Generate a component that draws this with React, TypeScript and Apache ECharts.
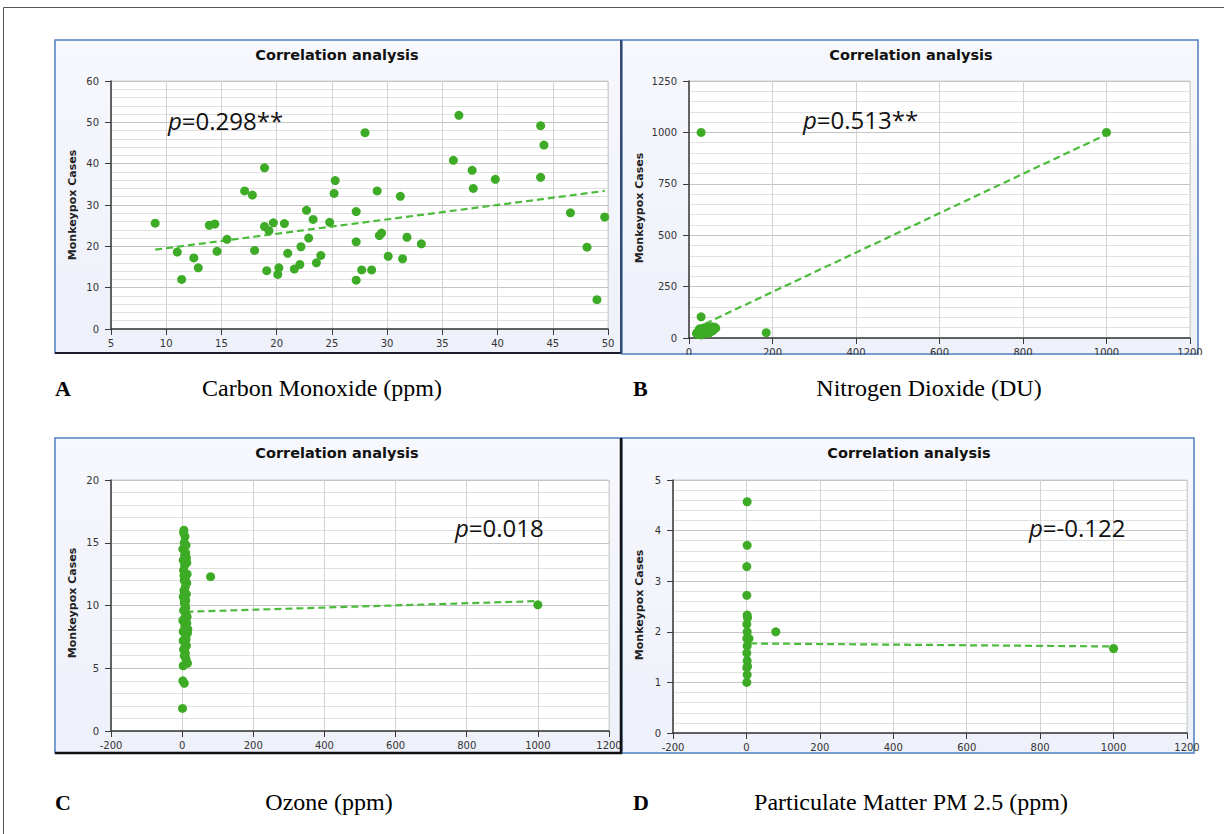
import React, { useEffect, useRef } from 'react';
import * as echarts from 'echarts';

const DOT = '#3dab25';
const TREND = '#4cbb3c';

// ---------- Panel A : Carbon Monoxide ----------
const coX = [9.0, 11.0, 11.4, 12.5, 12.9, 13.9, 14.4, 14.6, 15.5, 17.1, 17.8, 18.0, 18.9, 18.9, 19.1, 19.3, 19.7, 20.2, 20.1, 20.7,
  21.0, 21.6, 22.1, 22.2, 22.7, 22.9, 23.3, 23.6, 24.0, 24.8, 25.2, 25.3, 27.2, 27.2, 27.2, 27.7, 28.0, 28.6, 29.1, 29.3,
  29.5, 30.1, 31.2, 31.4, 31.8, 33.1, 36.0, 36.5, 37.7, 37.8, 39.8, 43.9, 44.2, 43.9, 46.6, 48.1, 49.0, 49.7];
const coCases = [25.6, 18.6, 12.0, 17.2, 14.8, 25.1, 25.4, 18.8, 21.7, 33.4, 32.4, 19.0, 39.0, 24.8, 14.1, 23.8, 25.7, 14.8, 13.2, 25.5,
  18.3, 14.5, 15.6, 19.9, 28.7, 22.0, 26.5, 16.0, 17.8, 25.8, 32.8, 35.9, 28.4, 21.1, 11.8, 14.3, 47.5, 14.3, 33.4, 22.6,
  23.2, 17.6, 32.1, 17.0, 22.2, 20.6, 40.8, 51.7, 38.4, 34.0, 36.2, 49.2, 44.5, 36.7, 28.1, 19.8, 7.1, 27.1];
const coTrendX = [9, 49.7];
const coTrendY = [19.2, 33.4];

// ---------- Panel B : Nitrogen Dioxide ----------
const no2X = [18, 20, 22, 24, 25, 27, 28, 30, 31, 32, 34, 35, 36, 38, 39, 40, 41, 42, 44, 45, 46, 47, 48, 50, 51, 52, 54, 55, 56, 58,
  60, 62, 64, 33, 26, 43, 37, 49, 57, 29, 29, 29, 1000, 185];
const no2Cases = [22, 28, 18, 35, 25, 30, 40, 22, 33, 45, 28, 38, 30, 42, 26, 35, 48, 32, 40, 28, 44, 36, 52, 40, 30, 46, 38, 55, 44, 50,
  42, 52, 48, 20, 45, 22, 50, 25, 35, 15, 103, 1000, 1000, 26];
const no2TrendX = [15, 1000];
const no2TrendY = [47, 990];

// ---------- Panel C : Ozone ----------
const o3X = [5, 8, 6, 2, 10, 12, 3, 7, 4, 14, 9, 6, 13, 5, 8, 3, 10, 6, 9, 4, 11, 7, 2, 13, 8, 5, 15, 10, 3, 8, 12, 4, 9, 6, 11, 15, 3,
  4, 11, 7, 13, 5, 9, 12, 6, 10, 14, 8, 3, 11, 16, 7, 9,
  2, 6, 1, 80, 1000];
const o3Cases = [16.0, 15.5, 15.0, 14.5, 14.2, 13.8, 13.6, 13.2, 12.8, 12.5, 12.2, 12.0, 11.8, 11.2, 11.0, 10.7, 10.4, 10.2, 10.0, 9.6,
  9.3, 9.0, 8.8, 8.6, 8.3, 8.0, 7.8, 7.5, 7.2, 7.0, 6.8, 6.5, 6.2, 6.0, 5.7, 5.4, 5.2,
  15.8, 14.8, 14.0, 13.4, 12.4, 11.5, 10.9, 10.5, 9.8, 9.1, 8.5, 7.9, 7.3, 8.1, 6.6, 5.9,
  4.0, 3.8, 1.8, 12.3, 10.05];
const o3TrendX = [12, 1000];
const o3TrendY = [9.5, 10.35];

// ---------- Panel D : PM 2.5 ----------
const pmX = [2, 2, 1, 1, 2, 3, 1, 2, 1, 7, 2, 1, 2, 3, 1, 2, 1, 80, 1000];
const pmCases = [4.57, 3.71, 3.29, 2.72, 2.33, 2.28, 2.15, 2.0, 1.87, 1.87, 1.72, 1.58, 1.43, 1.32, 1.29, 1.15, 1.0, 2.0, 1.67];
const pmTrendX = [10, 1000];
const pmTrendY = [1.77, 1.71];

const pValues = ['0.298**', '0.513**', '0.018', '-0.122'];
const panelLetters = ['A', 'B', 'C', 'D'];
const xNames = ['Carbon Monoxide (ppm)', 'Nitrogen Dioxide (DU)', 'Ozone (ppm)', 'Particulate Matter PM 2.5 (ppm)'];
const chartTitle = 'Correlation analysis';
const yName = 'Monkeypox Cases';

const xRanges = [
  { min: 5, max: 50, interval: 5 },
  { min: 0, max: 1200, interval: 200 },
  { min: -200, max: 1200, interval: 200 },
  { min: -200, max: 1200, interval: 200 },
];
const yRanges = [
  { min: 0, max: 60, interval: 10 },
  { min: 0, max: 1250, interval: 250 },
  { min: 0, max: 20, interval: 5 },
  { min: 0, max: 5, interval: 1 },
];

const zip = (a: number[], b: number[]) => a.map((v, i) => [v, b[i]]);

export default function App() {
  const ref = useRef<HTMLDivElement>(null);
  useEffect(() => {
    if (!ref.current) return;
    const chart = echarts.init(ref.current, undefined, { renderer: 'svg' });

    const grids = [
      { left: 111, top: 81, width: 497, height: 248 },
      { left: 689, top: 81, width: 501, height: 257 },
      { left: 111, top: 480, width: 498, height: 251 },
      { left: 673, top: 480, width: 514, height: 253 },
    ].map((g) => ({ ...g, show: true, backgroundColor: '#ffffff', borderColor: '#cfcfcf', borderWidth: 1 }));

    const labelStyle = { color: '#333', fontSize: 10, fontFamily: 'DejaVu Sans', formatter: (v: number) => String(v) };
    const xAxes = xRanges.map((r, i) => ({
      type: 'value', gridIndex: i, ...r,
      axisLine: { show: true, onZero: false, lineStyle: { color: '#3a3a3a', width: 1.5 } },
      axisTick: { show: true, length: 6, lineStyle: { color: '#3a3a3a' } },
      axisLabel: { ...labelStyle, margin: 9, showMinLabel: true, showMaxLabel: true },
      splitLine: { show: true, lineStyle: { color: '#d2d2d2', width: 1 } },
    }));
    const yAxes = yRanges.map((r, i) => ({
      type: 'value', gridIndex: i, ...r,
      axisLine: { show: true, onZero: false, lineStyle: { color: '#3a3a3a', width: 1.5 } },
      axisTick: { show: true, length: 6, lineStyle: { color: '#3a3a3a' } },
      axisLabel: { ...labelStyle, margin: 12 },
      splitLine: { show: true, lineStyle: { color: '#c4c4c4', width: 1 } },
      minorTick: { show: false, splitNumber: 5 },
      minorSplitLine: { show: true, lineStyle: { color: '#e0e0e0', width: 1 } },
    }));

    const sets = [
      [coX, coCases, coTrendX, coTrendY],
      [no2X, no2Cases, no2TrendX, no2TrendY],
      [o3X, o3Cases, o3TrendX, o3TrendY],
      [pmX, pmCases, pmTrendX, pmTrendY],
    ];
    const series: any[] = [];
    sets.forEach(([x, y, tx, ty], i) => {
      series.push({
        type: 'line', xAxisIndex: i, yAxisIndex: i, data: zip(tx, ty), showSymbol: false, symbol: 'none',
        lineStyle: { color: TREND, width: 2.2, type: [7, 4] }, z: 2, silent: true,
      });
      series.push({
        type: 'scatter', xAxisIndex: i, yAxisIndex: i, data: zip(x, y), symbolSize: 9,
        itemStyle: { color: DOT, opacity: 1 }, z: 3,
      });
    });

    const panels = [
      { x: 55, y: 40, w: 566, h: 313 },
      { x: 622, y: 40, w: 576, h: 314 },
      { x: 55, y: 438, w: 566, h: 315 },
      { x: 622, y: 438, w: 572, h: 315 },
    ];
    const titleCenters = [[337, 55], [911, 55], [337, 453], [909, 453]];
    const yNamePos = [[72, 205], [639, 208], [72, 603], [639, 605]];
    const pPos = [[168, 132], [803, 131], [455, 539], [1029, 539]];
    const letterPos = [[55, 388], [633, 388], [55, 802], [633, 802]];
    const namePos = [[322, 388], [929, 388], [329, 802], [911, 802]];

    const graphic: any[] = [];
    graphic.push({ type: 'rect', shape: { x: 3.5, y: 7.5, width: 1240, height: 840 }, style: { fill: 'none', stroke: '#555', lineWidth: 1 }, z: -20, silent: true });
    panels.forEach((p, i) => {
      graphic.push({
        type: 'rect', shape: { x: p.x, y: p.y, width: p.w, height: p.h }, z: -10, silent: true,
        style: {
          fill: new echarts.graphic.LinearGradient(0, 0, 0, 1, [
            { offset: 0, color: '#f7f8fd' }, { offset: 1, color: '#eef0fa' },
          ]),
          stroke: '#4f7fbf', lineWidth: 1.5,
        },
      });
      graphic.push({
        type: 'text', x: titleCenters[i][0], y: titleCenters[i][1], z: 50, silent: true,
        style: { text: chartTitle, fontFamily: 'DejaVu Sans', fontWeight: 'bold', fontSize: 14.5, fill: '#111', align: 'center', verticalAlign: 'middle', textAlign: 'center', textVerticalAlign: 'middle' },
      });
      graphic.push({
        type: 'text', x: yNamePos[i][0], y: yNamePos[i][1], rotation: Math.PI / 2, z: 50, silent: true,
        style: { text: yName, fontFamily: 'DejaVu Sans', fontWeight: 'bold', fontSize: 11, fill: '#222', align: 'center', verticalAlign: 'middle', textAlign: 'center', textVerticalAlign: 'middle' },
      });
      graphic.push({
        type: 'text', x: pPos[i][0], y: pPos[i][1], z: 50, silent: true,
        style: {
          text: '{i|p}{n|=' + pValues[i] + '}', align: 'left', verticalAlign: 'bottom', textAlign: 'left', textVerticalAlign: 'bottom',
          rich: {
            i: { fontFamily: 'Open Sans', fontStyle: 'italic', fontSize: 24, fill: '#111', color: '#111' },
            n: { fontFamily: 'Open Sans', fontSize: 24, fill: '#111', color: '#111' },
          },
        },
      });
      graphic.push({
        type: 'text', x: letterPos[i][0], y: letterPos[i][1], z: 50, silent: true,
        style: { text: panelLetters[i], fontFamily: 'Liberation Serif', fontWeight: 'bold', fontSize: 22, fill: '#000', align: 'left', verticalAlign: 'middle', textAlign: 'left', textVerticalAlign: 'middle' },
      });
      graphic.push({
        type: 'text', x: namePos[i][0], y: namePos[i][1], z: 50, silent: true,
        style: { text: xNames[i], fontFamily: 'Liberation Serif', fontSize: 24, fill: '#000', align: 'center', verticalAlign: 'middle', textAlign: 'center', textVerticalAlign: 'middle' },
      });
    });
    graphic.push({ type: 'rect', shape: { x: 622, y: 355, width: 602, height: 10 }, style: { fill: '#ffffff' }, z: 60, silent: true });
    graphic.push({ type: 'line', shape: { x1: 55, y1: 353, x2: 621, y2: 353 }, style: { stroke: '#1c1c2c', lineWidth: 2 }, z: 60, silent: true });
    graphic.push({ type: 'line', shape: { x1: 621, y1: 40, x2: 621, y2: 354 }, style: { stroke: '#24304a', lineWidth: 1.5 }, z: 60, silent: true });
    graphic.push({ type: 'line', shape: { x1: 55, y1: 753, x2: 622, y2: 753 }, style: { stroke: '#111', lineWidth: 2.5 }, z: 60, silent: true });
    graphic.push({ type: 'line', shape: { x1: 621, y1: 438, x2: 621, y2: 754 }, style: { stroke: '#111', lineWidth: 2.5 }, z: 60, silent: true });

    chart.setOption({
      animation: false,
      backgroundColor: '#ffffff',
      grid: grids,
      xAxis: xAxes,
      yAxis: yAxes,
      series,
      graphic,
    });
    return () => chart.dispose();
  }, []);
  return <div ref={ref} style={{ position: 'fixed', left: 0, top: 0, width: 1224, height: 834 }} />;
}
